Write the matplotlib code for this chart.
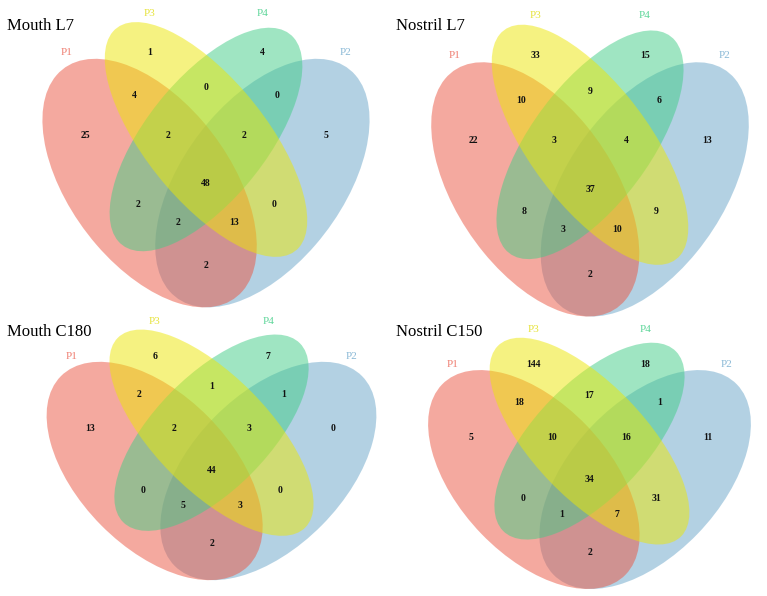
"""
Four 4-set Venn diagrams (P1-P4) for mouth / nostril samples.
"""

import matplotlib
matplotlib.use("Agg")
import matplotlib.pyplot as plt
from matplotlib.patches import Ellipse
from matplotlib.transforms import Affine2D

plt.rcParams['font.family'] = ['Liberation Serif', 'DejaVu Serif']

# ---------- Data ----------
# region order: P3, P3&P4, P4, P1&P3, P1&P3&P4, all, P3&P4&P2, P4&P2,
#               P1, P1&P4, P1&P4&P2, P1&P2, P1&P3&P2, P3&P2, P2
regions = ["P3", "P3&P4", "P4", "P1&P3", "P1&P3&P4", "P1&P2&P3&P4", "P2&P3&P4", "P2&P4",
           "P1", "P1&P4", "P1&P2&P4", "P1&P2", "P1&P2&P3", "P2&P3", "P2"]

mouth_l7     = [1, 0, 4, 4, 2, 48, 2, 0, 25, 2, 2, 2, 13, 0, 5]
nostril_l7   = [33, 9, 15, 10, 3, 37, 4, 6, 22, 8, 3, 2, 10, 9, 13]
mouth_c180   = [6, 1, 7, 2, 2, 44, 3, 1, 13, 0, 5, 2, 3, 0, 0]
nostril_c150 = [144, 17, 18, 18, 10, 34, 16, 1, 5, 0, 1, 2, 7, 31, 11]

titles = ["Mouth L7", "Nostril L7", "Mouth C180", "Nostril C150"]
set_names = ["P2", "P1", "P4", "P3"]   # drawing order

# ---------- Layout (unit square, y up) ----------
ellipses = [(0.65, 0.47, 0.35, 0.20, 45),    # P2
            (0.35, 0.47, 0.35, 0.20, 135),   # P1
            (0.50, 0.57, 0.33, 0.15, 45),    # P4
            (0.50, 0.57, 0.35, 0.15, 135)]   # P3
fills = ["#69a5c9", "#eb5541", "#41cd87", "#ede705"]
label_cols = ["#8ab9d6", "#ef7f72", "#5fd69a", "#e6e33a"]
cat_pos = [(0.87, 0.77), (0.13, 0.77), (0.65, 0.86), (0.35, 0.86)]

region_pos = [(0.35, 0.77), (0.50, 0.69), (0.65, 0.77), (0.31, 0.67), (0.40, 0.58),
              (0.50, 0.47), (0.60, 0.58), (0.69, 0.67), (0.18, 0.58), (0.32, 0.42),
              (0.425, 0.38), (0.50, 0.28), (0.575, 0.38), (0.68, 0.42), (0.82, 0.58)]

# per panel: x offset, y offset (px from top), x scale, y scale, title pos
panels = [(18, 388, 376, 436, (7, 26)),
          (407.5, 399, 365, 446, (396, 26)),
          (22, 651, 379, 383, (7, 332)),
          (404, 660, 371, 384, (396, 332))]

fig = plt.figure(figsize=(7.67, 5.96), dpi=100)
ax = fig.add_axes([0, 0, 1, 1])
ax.set_xlim(0, 767); ax.set_ylim(596, 0)
ax.axis("off")

for counts, title, (ox, oy, sx, sy, tpos) in zip(
        [mouth_l7, nostril_l7, mouth_c180, nostril_c150], titles, panels):
    tr = Affine2D().scale(sx, -sy).translate(ox, oy) + ax.transData
    for (x, y, a, b, rot), c in zip(ellipses, fills):
        ax.add_patch(Ellipse((x, y), 2*a, 2*b, angle=rot, facecolor=c,
                             edgecolor="none", alpha=0.5, transform=tr))
    for name, (x, y), c in zip(set_names, cat_pos, label_cols):
        ax.text(x, y, name, transform=tr, ha="center", va="center",
                fontsize=8, color=c)
    for n, (x, y) in zip(counts, region_pos):
        ax.text(x, y, str(n), transform=tr, ha="center", va="center",
                fontsize=7, fontweight="bold", color="#111111")
    ax.text(tpos[0], tpos[1], title, ha="left", va="center", fontsize=12)

fig.savefig("out.png", dpi=100)
